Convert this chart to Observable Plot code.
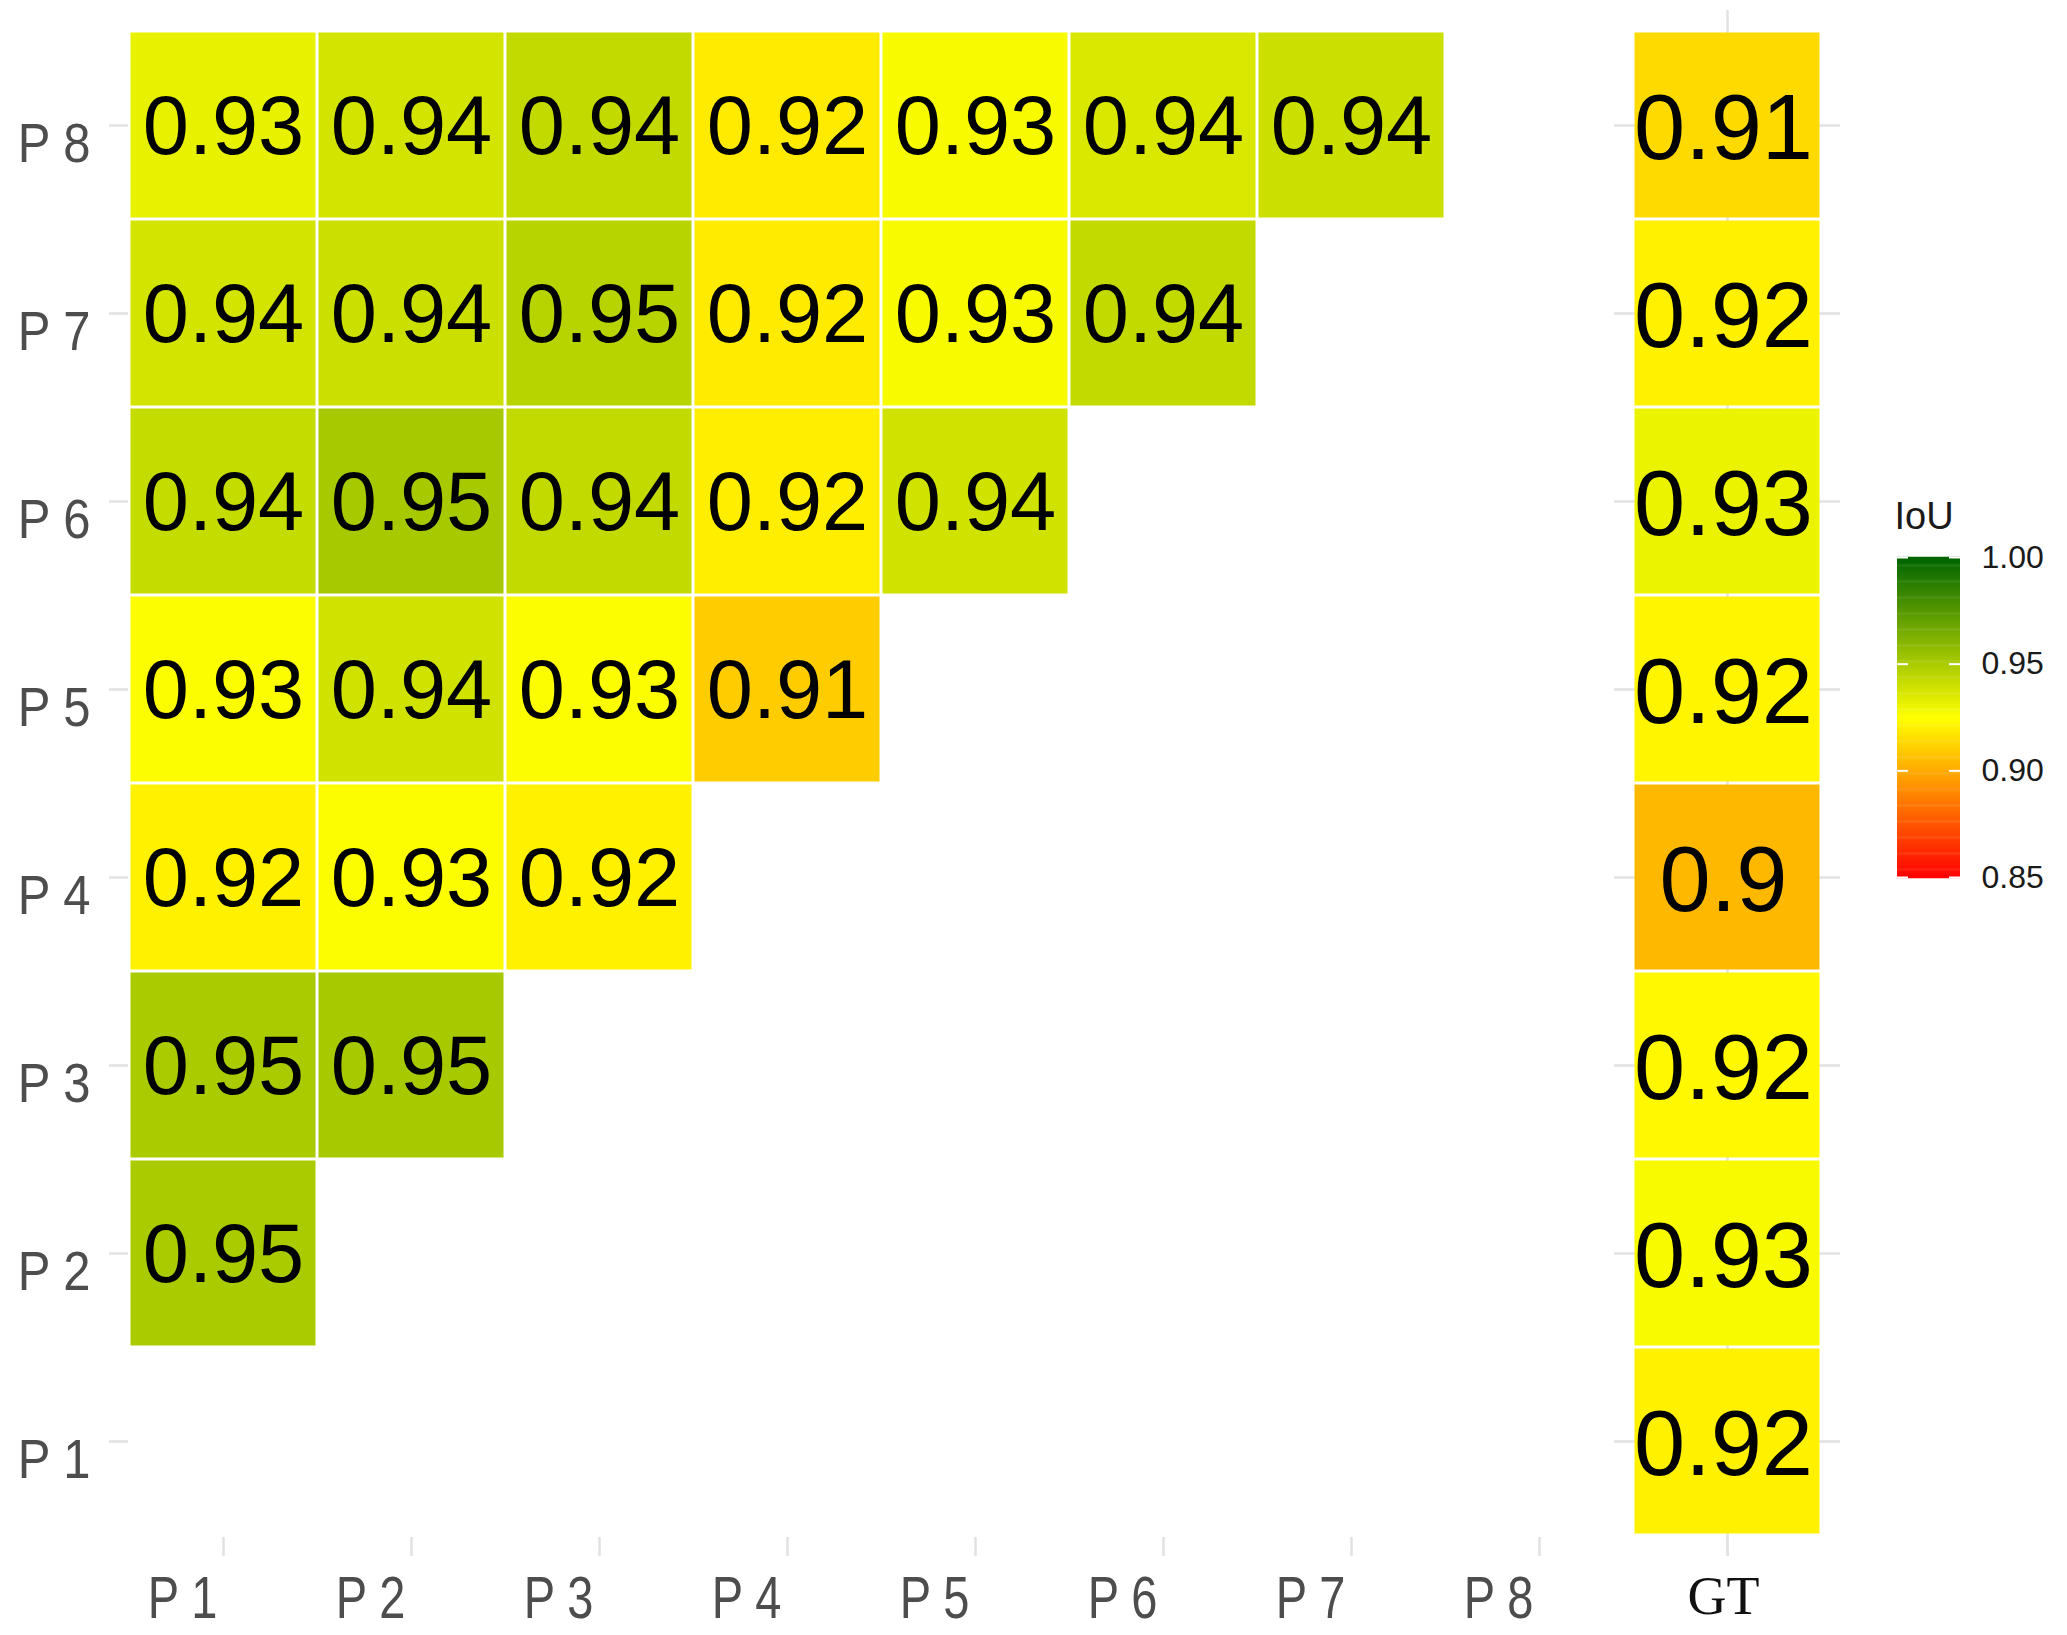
<!DOCTYPE html>
<html>
<head>
<meta charset="utf-8">
<script src="https://cdn.jsdelivr.net/npm/d3@7"></script>
<script src="https://cdn.jsdelivr.net/npm/@observablehq/plot@0.6"></script>
<style>
  html, body { margin: 0; padding: 0; background: #ffffff; }
  #wrap { position: relative; width: 2067px; height: 1635px; }
  #legend { position: absolute; left: 1880px; top: 490px; }
</style>
</head>
<body>
<div id="wrap"><div id="main"></div><div id="legend"></div></div>
<script>
// ---------- data ----------
const labels = ["P 1", "P 2", "P 3", "P 4", "P 5", "P 6", "P 7", "P 8"];
// IoU of row Pi against columns P1..P(i-1)
const rowP2 = [0.950];
const rowP3 = [0.950, 0.951];
const rowP4 = [0.921, 0.926, 0.921];
const rowP5 = [0.926, 0.939, 0.926, 0.910];
const rowP6 = [0.942, 0.951, 0.943, 0.920, 0.939];
const rowP7 = [0.938, 0.940, 0.946, 0.919, 0.927, 0.943];
const rowP8 = [0.932, 0.938, 0.943, 0.919, 0.927, 0.936, 0.940];
// IoU of each person (P1..P8) against ground truth
const gtValues = [0.921, 0.927, 0.923, 0.904, 0.922, 0.931, 0.921, 0.914];
const legendTicks = [0.85, 0.90, 0.95, 1.00];

// ---------- tables ----------
const rowTable = {"P 2": rowP2, "P 3": rowP3, "P 4": rowP4, "P 5": rowP5,
                  "P 6": rowP6, "P 7": rowP7, "P 8": rowP8};
const pairCells = [];
for (const [r, vals] of Object.entries(rowTable)) {
  vals.forEach((v, j) => pairCells.push({x: labels[j], y: r, v}));
}
const gtCells = gtValues.map((v, i) => ({x: "GT", y: labels[i], v}));
const fmt = v => String(Math.round(v * 100) / 100);

const colorScale = {
  type: "linear",
  domain: [0.85, 0.925, 1.0],
  range: ["#ff0000", "#ffff00", "#006400"],
  interpolate: "rgb"
};
const gridStroke = "#e2e2e2";

const main = Plot.plot({
  width: 2067,
  height: 1635,
  marginLeft: 128,
  marginRight: 245,
  marginTop: 29,
  marginBottom: 98,
  style: {background: "white", fontFamily: "'Liberation Sans', Arial, sans-serif"},
  x: {type: "band", domain: [...labels, "GT"], padding: 0, axis: null, label: null},
  y: {type: "band", domain: labels.slice().reverse(), padding: 0, axis: null, label: null},
  color: colorScale,
  marks: [
    Plot.ruleX(["GT"], {x: d => d, insetTop: -19, insetBottom: -19, stroke: gridStroke, strokeWidth: 2.5}),
    Plot.tickY(labels, {x: () => "GT", y: d => d, insetLeft: -19, insetRight: -19, stroke: gridStroke, strokeWidth: 2.5}),
    // y axis: tick stubs, then labels
    Plot.axisY(labels, {anchor: "left", label: null, tickSize: 19, tickFormat: () => "",
      stroke: gridStroke, strokeWidth: 2.5}),
    Plot.axisY(labels, {anchor: "left", label: null, tickSize: 0, tickPadding: 38, lineAnchor: "top", dy: -4,
      fontSize: 49, fill: "#4d4d4d"}),
    // x axis: tick stubs, then labels
    Plot.axisX([...labels, "GT"], {anchor: "bottom", label: null, tickSize: 19, tickFormat: () => "",
      stroke: gridStroke, strokeWidth: 2.5}),
    Plot.axisX(labels, {anchor: "bottom", label: null, tickSize: 0, tickPadding: 38, textAnchor: "end", dx: -6,
      fontSize: 47, fill: "#4d4d4d"}),
    Plot.text(["GT"], {x: d => d, text: d => d, frameAnchor: "bottom", dy: 38, dx: -4, lineAnchor: "top",
      fontFamily: "'Liberation Serif', 'Times New Roman', serif", fontSize: 54, fill: "#111",
      ariaLabel: "gt-label"}),
    Plot.cell(pairCells, {x: "x", y: "y", fill: "v", inset: 1.5}),
    Plot.cell(gtCells, {x: "x", y: "y", fill: "v", inset: 1.5}),
    Plot.text(pairCells, {x: "x", y: "y", text: d => fmt(d.v), fontSize: 83, fill: "black", dy: 2}),
    Plot.text(gtCells, {x: "x", y: "y", text: d => fmt(d.v), fontSize: 92, fill: "black", dy: 4, dx: -4,
      ariaLabel: "gt-text"})
  ]
});

function stretch(svg, selector, k) {
  svg.querySelectorAll(selector).forEach(t => {
    const tr = t.getAttribute("transform") || "";
    t.setAttribute("transform", tr + ` scale(1,${k})`);
  });
}
stretch(main, 'g[aria-label="x-axis tick label"] text', 1.28);
stretch(main, 'g[aria-label="y-axis tick label"] text', 1.15);
stretch(main, 'g[aria-label="gt-label"] text', 1.2);
stretch(main, 'g[aria-label="gt-text"] text', 1.08);
document.getElementById("main").appendChild(main);

// ---------- legend (vertical colour bar) ----------
const gradientSteps = d3.range(0, 301).map(i => 0.85 + i * 0.0005);
const legend = Plot.plot({
  width: 187,
  height: 410,
  marginLeft: 17,
  marginRight: 107,
  marginTop: 67,
  marginBottom: 23,
  style: {background: "transparent", fontFamily: "'Liberation Sans', Arial, sans-serif", overflow: "visible"},
  y: {domain: [0.85, 1.0], axis: null, label: null},
  color: colorScale,
  marks: [
    Plot.ruleY(gradientSteps, {y: d => d, stroke: d => d, strokeWidth: 1.6}),
    Plot.tickY(legendTicks, {y: d => d, stroke: "white", strokeWidth: 2, insetRight: 52}),
    Plot.tickY(legendTicks, {y: d => d, stroke: "white", strokeWidth: 2, insetLeft: 52}),
    Plot.axisY(legendTicks, {anchor: "right", label: null, tickSize: 0, tickPadding: 21, tickFormat: d3.format(".2f"),
      fontSize: 32, fill: "#1a1a1a"}),
    Plot.text(["IoU"], {text: d => d, frameAnchor: "top-left", dx: -3, dy: -55, lineAnchor: "top",
      textAnchor: "start", fontSize: 38, fill: "#1a1a1a"})
  ]
});
document.getElementById("legend").appendChild(legend);
</script>
</body>
</html>
